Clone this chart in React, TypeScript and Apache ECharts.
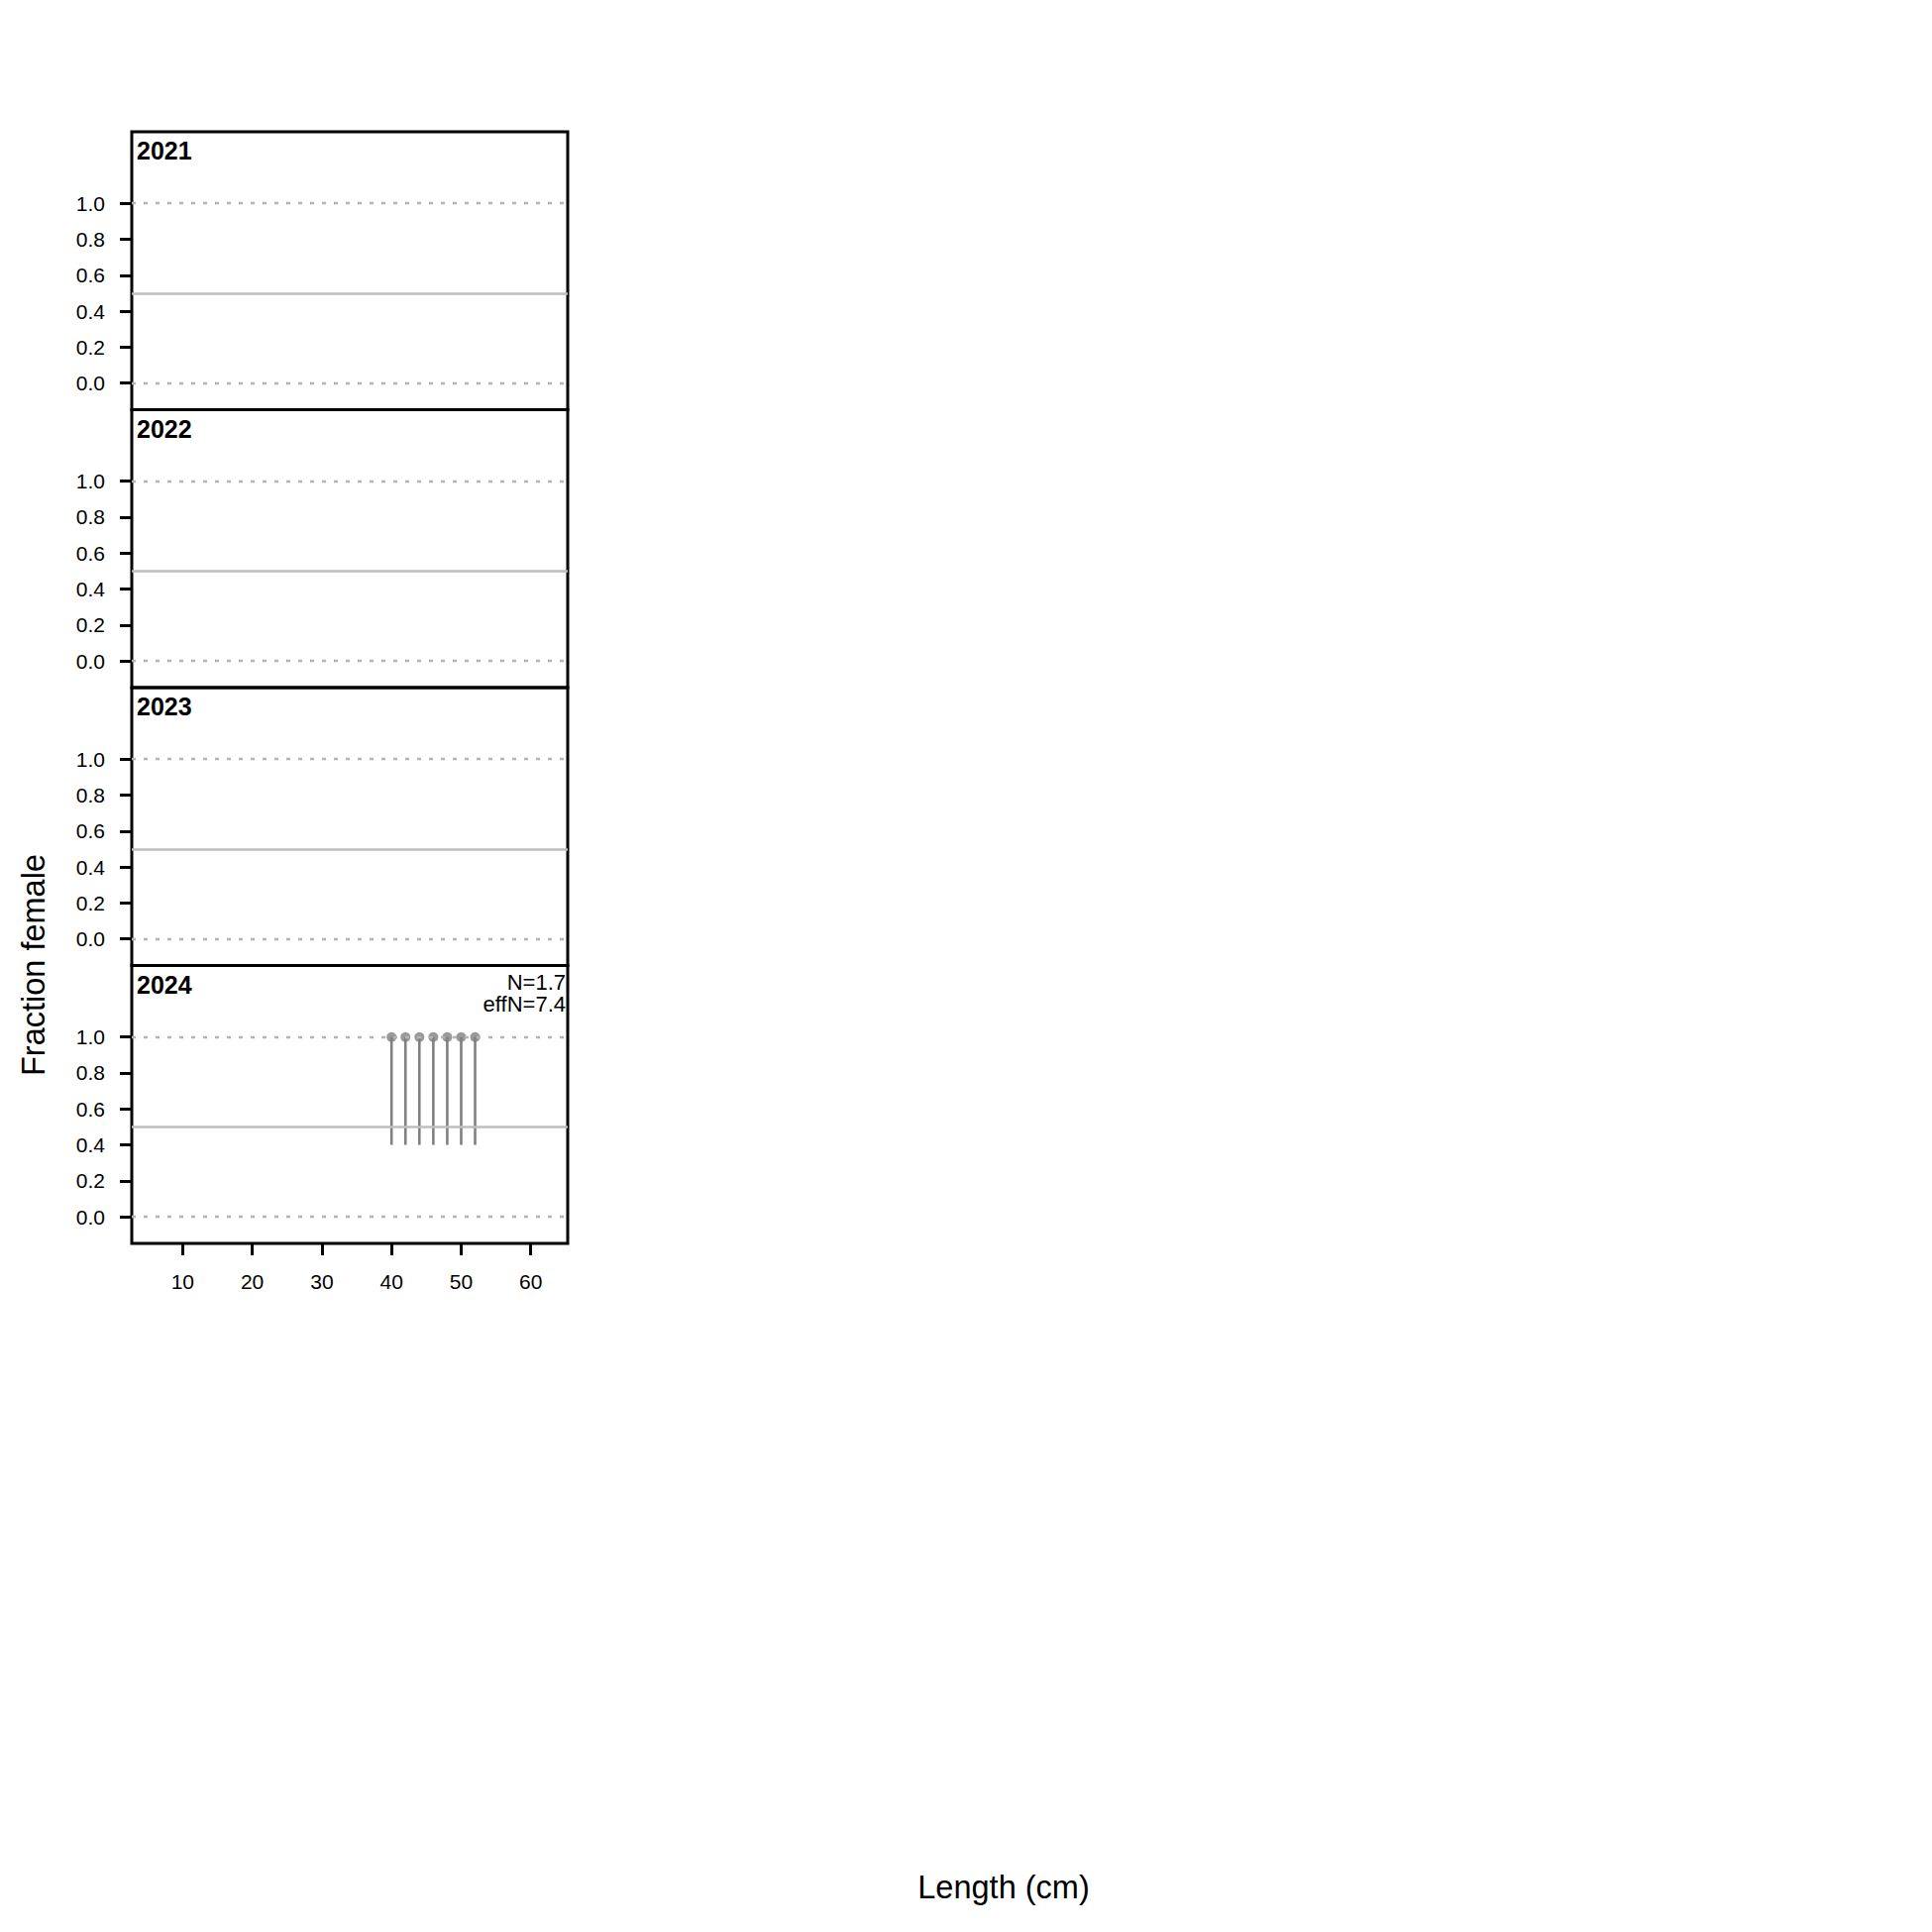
import React, { useEffect, useRef } from 'react';
import * as echarts from 'echarts';

// ---- data ----
const years = ['2021', '2022', '2023', '2024'];
const lengthBins2024 = [40, 42, 44, 46, 48, 50, 52];
const fracFemale2024 = [1, 1, 1, 1, 1, 1, 1];
const lowerCI2024 = [0.4, 0.4, 0.4, 0.4, 0.4, 0.4, 0.4];
const upperCI2024 = [1, 1, 1, 1, 1, 1, 1];
const nLabels = ['', '', '', 'N=1.7'];
const effNLabels = ['', '', '', 'effN=7.4'];
const xTicks = [10, 20, 30, 40, 50, 60];
const yTicks = [0, 0.2, 0.4, 0.6, 0.8, 1.0];
const refLineDotted = [0, 1];
const refLineSolid = 0.5;

const panelData: Array<null | { len: number[]; frac: number[]; lo: number[]; hi: number[] }> = [
  null,
  null,
  null,
  { len: lengthBins2024, frac: fracFemale2024, lo: lowerCI2024, hi: upperCI2024 },
];

const FONT = "'Liberation Sans', Arial, sans-serif";
const X_MIN = 2.7;
const X_MAX = 65.3;
const Y_MIN = -0.148;
const Y_MAX = 1.398;
const GRID_LEFT = 133;
const GRID_W = 440;
const GRID_TOP = 133;
const PANEL_H = 280.5;

export default function App() {
  const ref = useRef<HTMLDivElement>(null);
  useEffect(() => {
    if (!ref.current) return;
    const chart = echarts.init(ref.current, null, { renderer: 'svg' });
    const n = years.length;
    const grids: any[] = [];
    const xAxes: any[] = [];
    const yAxes: any[] = [];
    const series: any[] = [];
    const graphics: any[] = [];

    for (let i = 0; i < n; i++) {
      const top = GRID_TOP + i * PANEL_H;
      const isBottom = i === n - 1;
      grids.push({
        left: GRID_LEFT,
        top,
        width: GRID_W,
        height: PANEL_H,
        show: true,
        borderColor: '#000',
        borderWidth: 3,
        backgroundColor: 'transparent',
        containLabel: false,
      });
      xAxes.push({
        type: 'value',
        gridIndex: i,
        position: 'bottom',
        min: X_MIN,
        max: X_MAX,
        show: isBottom,
        axisLine: { show: false, onZero: false },
        splitLine: { show: false },
        axisTick: {
          show: isBottom,
          length: 12,
          customValues: xTicks,
          lineStyle: { color: '#000', width: 3 },
        },
        axisLabel: {
          show: isBottom,
          customValues: xTicks,
          margin: 28,
          fontSize: 21,
          color: '#000',
          fontFamily: FONT,
        },
      });
      yAxes.push({
        type: 'value',
        gridIndex: i,
        position: 'left',
        min: Y_MIN,
        max: Y_MAX,
        axisLine: { show: false, onZero: false },
        splitLine: { show: false },
        axisTick: {
          show: true,
          length: 12,
          customValues: yTicks,
          lineStyle: { color: '#000', width: 3 },
        },
        axisLabel: {
          customValues: yTicks,
          margin: 27,
          fontSize: 21,
          color: '#000',
          fontFamily: FONT,
          formatter: (v: number) => v.toFixed(1),
        },
      });

      series.push({
        type: 'line',
        xAxisIndex: i,
        yAxisIndex: i,
        data: [],
        silent: true,
        symbol: 'none',
        markLine: {
          silent: true,
          symbol: 'none',
          label: { show: false },
          data: [
            ...refLineDotted.map((v) => ({
              yAxis: v,
              lineStyle: { color: '#b4b4b4', width: 2.4, type: [4, 8] },
            })),
            { yAxis: refLineSolid, lineStyle: { color: '#bebebe', width: 2.6, type: 'solid' } },
          ],
        },
        z: 1,
      });

      const pd = panelData[i];
      if (pd) {
        series.push({
          type: 'custom',
          xAxisIndex: i,
          yAxisIndex: i,
          data: pd.len.map((l, k) => [l, pd.lo[k], pd.hi[k]]),
          encode: { x: 0, y: [1, 2] },
          renderItem: (params: any, api: any) => {
            const x = api.value(0);
            const p1 = api.coord([x, api.value(1)]);
            const p2 = api.coord([x, api.value(2)]);
            return {
              type: 'line',
              shape: { x1: p1[0], y1: p1[1], x2: p2[0], y2: p2[1] },
              style: { stroke: '#808080', lineWidth: 2.6 },
            };
          },
          z: 3,
        });
        series.push({
          type: 'scatter',
          xAxisIndex: i,
          yAxisIndex: i,
          data: pd.len.map((l, k) => [l, pd.frac[k]]),
          symbol: 'circle',
          symbolSize: 10,
          itemStyle: { color: '#808080' },
          z: 4,
        });
      }

      graphics.push({
        type: 'text',
        x: GRID_LEFT + 5,
        y: top + 19,
        style: {
          text: years[i],
          font: `bold 25px ${FONT}`,
          fill: '#000',
          textAlign: 'left',
          textVerticalAlign: 'middle',
          align: 'left',
          verticalAlign: 'middle',
        },
      });
      if (nLabels[i]) {
        graphics.push({
          type: 'text',
          x: GRID_LEFT + GRID_W - 2,
          y: top + 17,
          style: {
            text: nLabels[i],
            font: `22px ${FONT}`,
            fill: '#000',
            textAlign: 'right',
            textVerticalAlign: 'middle',
            align: 'right',
            verticalAlign: 'middle',
          },
        });
      }
      if (effNLabels[i]) {
        graphics.push({
          type: 'text',
          x: GRID_LEFT + GRID_W - 2,
          y: top + 39,
          style: {
            text: effNLabels[i],
            font: `22px ${FONT}`,
            fill: '#000',
            textAlign: 'right',
            textVerticalAlign: 'middle',
            align: 'right',
            verticalAlign: 'middle',
          },
        });
      }
    }

    graphics.push({
      type: 'text',
      x: 34,
      y: 974,
      rotation: Math.PI / 2,
      style: {
        text: 'Fraction female',
        font: `32.5px ${FONT}`,
        fill: '#000',
        textAlign: 'center',
        textVerticalAlign: 'middle',
        align: 'center',
        verticalAlign: 'middle',
      },
    });
    graphics.push({
      type: 'text',
      x: 1013,
      y: 1905,
      style: {
        text: 'Length (cm)',
        font: `32.5px ${FONT}`,
        fill: '#000',
        textAlign: 'center',
        textVerticalAlign: 'middle',
        align: 'center',
        verticalAlign: 'middle',
      },
    });

    chart.setOption({
      animation: false,
      backgroundColor: '#fff',
      grid: grids,
      xAxis: xAxes,
      yAxis: yAxes,
      series,
      graphic: graphics,
    });
    return () => chart.dispose();
  }, []);

  return (
    <div
      ref={ref}
      style={{ position: 'absolute', left: 0, top: 0, width: 1950, height: 1950 }}
    />
  );
}
